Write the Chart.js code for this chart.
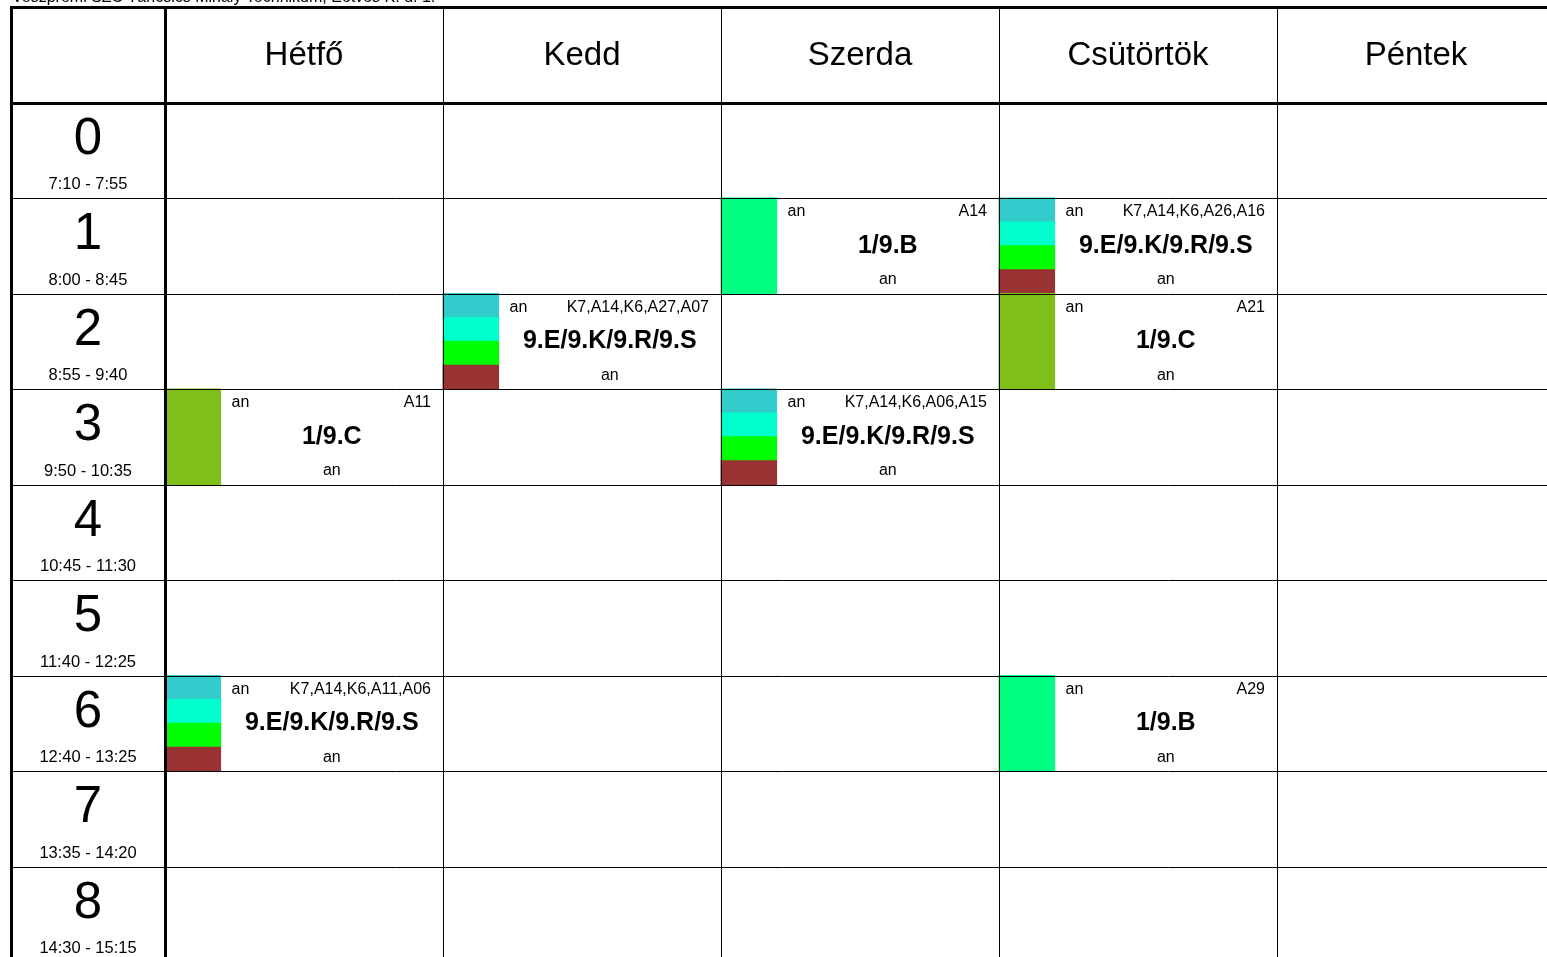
<!DOCTYPE html>
<html lang="hu">
<head>
<meta charset="utf-8">
<title>Órarend</title>
<script src="https://cdn.jsdelivr.net/npm/chart.js@4.4.1/dist/chart.umd.min.js"></script>
<style>
  html, body { margin: 0; padding: 0; background: #fff; overflow: hidden; }
  canvas { display: block; }
</style>
</head>
<body>
<canvas id="orarend" width="1560" height="970"></canvas>
<script>
const cim = 'Veszprémi SZC Táncsics Mihály Technikum, Eötvös K. u. 1.';
const napok = ['Hétfő', 'Kedd', 'Szerda', 'Csütörtök', 'Péntek'];
const orak = ['0', '1', '2', '3', '4', '5', '6', '7', '8'];
const idopontok = ['7:10 - 7:55', '8:00 - 8:45', '8:55 - 9:40', '9:50 - 10:35', '10:45 - 11:30',
  '11:40 - 12:25', '12:40 - 13:25', '13:35 - 14:20', '14:30 - 15:15'];

// a tanórák: nap, óra, osztály, csoportok, termek, tárgy, tanár
const oraNap = [0, 0, 1, 2, 2, 3, 3, 3];
const oraSzam = [3, 6, 2, 1, 3, 1, 2, 6];
const oraOsztaly = ['1/9.C', '9.E/9.K/9.R/9.S', '9.E/9.K/9.R/9.S', '1/9.B',
  '9.E/9.K/9.R/9.S', '9.E/9.K/9.R/9.S', '1/9.C', '1/9.B'];
const oraCsoportok = [
  ['1/9.C'],
  ['9.E', '9.K', '9.R', '9.S'],
  ['9.E', '9.K', '9.R', '9.S'],
  ['1/9.B'],
  ['9.E', '9.K', '9.R', '9.S'],
  ['9.E', '9.K', '9.R', '9.S'],
  ['1/9.C'],
  ['1/9.B']
];
const oraTerem = ['A11', 'K7,A14,K6,A11,A06', 'K7,A14,K6,A27,A07', 'A14',
  'K7,A14,K6,A06,A15', 'K7,A14,K6,A26,A16', 'A21', 'A29'];
const oraTargy = ['an', 'an', 'an', 'an', 'an', 'an', 'an', 'an'];
const oraTanar = ['an', 'an', 'an', 'an', 'an', 'an', 'an', 'an'];

const csoportSzin = {
  '1/9.B': '#00FF80',
  '1/9.C': '#80BF1A',
  '9.E': '#33CCCC',
  '9.K': '#00FFCC',
  '9.R': '#00FF00',
  '9.S': '#993333'
};

const FONT = '"Liberation Sans", Arial, sans-serif';

// színes sávok az órák bal szélén
const savok = [];
const savSzinek = [];
oraNap.forEach((nap, i) => {
  const cs = oraCsoportok[i];
  cs.forEach((g, j) => {
    savok.push({ x: nap + 0.1, y: [oraSzam[i] + j / cs.length, oraSzam[i] + (j + 1) / cs.length] });
    savSzinek.push(csoportSzin[g]);
  });
});

const racs = {
  id: 'racs',
  beforeDraw(chart) {
    const ctx = chart.ctx;
    ctx.save();
    ctx.fillStyle = '#fff';
    ctx.fillRect(0, 0, chart.width, chart.height);
    ctx.restore();
  },
  afterDatasetsDraw(chart) {
    const { ctx, chartArea, scales: { x, y } } = chart;
    ctx.save();
    ctx.strokeStyle = '#000';

    const vizszintes = (v, w) => {
      const py = Math.round(y.getPixelForValue(v)) + (w % 2 ? 0.5 : 0);
      ctx.lineWidth = w;
      ctx.beginPath();
      ctx.moveTo(chartArea.left - 1, py);
      ctx.lineTo(chartArea.right, py);
      ctx.stroke();
    };
    const fuggoleges = (v, w) => {
      const px = Math.round(x.getPixelForValue(v)) + (w % 2 ? 0.5 : 0);
      ctx.lineWidth = w;
      ctx.beginPath();
      ctx.moveTo(px, chartArea.top - 1);
      ctx.lineTo(px, chartArea.bottom);
      ctx.stroke();
    };

    for (let r = 1; r < orak.length + 1; r++) vizszintes(r, 1);
    for (let d = 1; d < napok.length; d++) fuggoleges(d, 1);
    vizszintes(-1, 3);
    vizszintes(0, 3);
    fuggoleges(x.min, 3);
    fuggoleges(0, 3);

    // cím
    ctx.fillStyle = '#000';
    ctx.textBaseline = 'alphabetic';
    ctx.textAlign = 'left';
    ctx.font = '16px ' + FONT;
    ctx.fillText(cim, 12, 2);

    // napok
    ctx.textBaseline = 'middle';
    ctx.textAlign = 'center';
    ctx.font = '33px ' + FONT;
    const fejKozep = (y.getPixelForValue(-1) + y.getPixelForValue(0)) / 2;
    napok.forEach((n, d) => {
      const cx = (x.getPixelForValue(d) + x.getPixelForValue(d + 1)) / 2;
      ctx.fillText(n, cx, fejKozep + 1);
    });

    // órák és időpontok
    const balKozep = (x.getPixelForValue(x.min) + x.getPixelForValue(0)) / 2;
    orak.forEach((o, r) => {
      const top = y.getPixelForValue(r);
      ctx.font = '51px ' + FONT;
      ctx.fillText(o, balKozep, top + 37);
      ctx.font = '16.5px ' + FONT;
      ctx.fillText(idopontok[r], balKozep, top + 82);
    });

    // tanórák szövegei
    oraNap.forEach((nap, i) => {
      const top = y.getPixelForValue(oraSzam[i]);
      const bal = x.getPixelForValue(nap + 0.2);
      const jobb = x.getPixelForValue(nap + 1);
      const kozep = (bal + jobb) / 2;
      ctx.font = '16px ' + FONT;
      ctx.textAlign = 'left';
      ctx.fillText(oraTargy[i], bal + 11, top + 14);
      ctx.textAlign = 'right';
      ctx.fillText(oraTerem[i], jobb - 12, top + 14);
      ctx.textAlign = 'center';
      ctx.fillText(oraTanar[i], kozep, top + 82);
      ctx.font = 'bold 25px ' + FONT;
      ctx.fillText(oraOsztaly[i], kozep, top + 48);
    });
    ctx.restore();
  }
};

new Chart(document.getElementById('orarend'), {
  type: 'bar',
  data: {
    datasets: [{
      data: savok,
      backgroundColor: savSzinek,
      borderWidth: 0,
      barThickness: 55.6,
      grouped: false,
      inflateAmount: 0.5
    }]
  },
  options: {
    responsive: false,
    animation: false,
    devicePixelRatio: 1,
    layout: { padding: { left: 11, top: 7, right: 5, bottom: 8 } },
    plugins: { legend: { display: false }, tooltip: { enabled: false } },
    scales: {
      x: { type: 'linear', display: false, min: -154 / 278, max: 5, offset: false },
      y: { type: 'linear', display: false, min: -1, max: 9, reverse: true }
    }
  },
  plugins: [racs]
});
</script>
</body>
</html>
